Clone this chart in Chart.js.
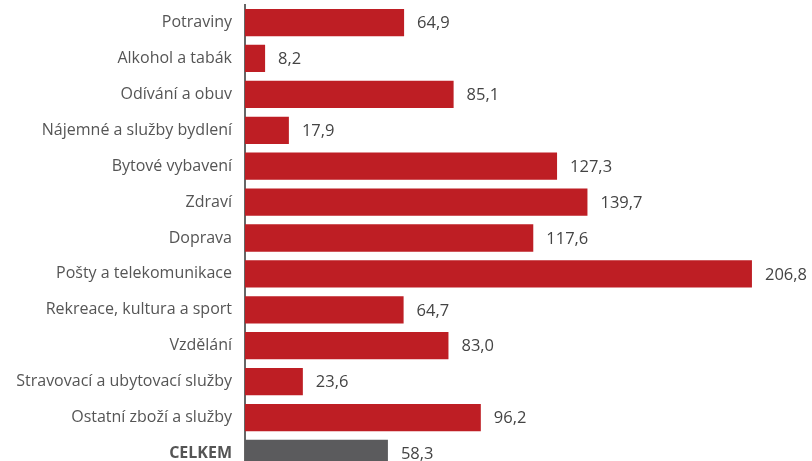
<!DOCTYPE html>
<html lang="cs">
<head>
<meta charset="UTF-8">
<title>Výdaje</title>
<script src="https://cdn.jsdelivr.net/npm/chart.js"></script>
<style>
  html, body { margin: 0; padding: 0; background: #fff; overflow: hidden; }
  #wrap { width: 812px; height: 461px; overflow: hidden; }
  #graf { display: block; margin-top: -10px; }
</style>
</head>
<body>
<div id="wrap"><canvas id="graf" width="812" height="496"></canvas></div>
<script>
// data
const kategorie = ["Potraviny", "Alkohol a tabák", "Odívání a obuv", "Nájemné a služby bydlení",
  "Bytové vybavení", "Zdraví", "Doprava", "Pošty a telekomunikace", "Rekreace, kultura a sport",
  "Vzdělání", "Stravovací a ubytovací služby", "Ostatní zboží a služby", "CELKEM"];
const hodnoty = [64.9, 8.2, 85.1, 17.9, 127.3, 139.7, 117.6, 206.8, 64.7, 83.0, 23.6, 96.2, 58.3];

const barvy = kategorie.map(k => k === "CELKEM" ? "#5b5b5d" : "#be1e24");

// popisky hodnot za sloupci
const popisky = {
  id: 'popisky',
  afterDatasetsDraw(chart) {
    const c = chart.ctx;
    const meta = chart.getDatasetMeta(0);
    c.save();
    c.font = '16.5px "Open Sans", sans-serif';
    c.fillStyle = '#444';
    c.textBaseline = 'middle';
    meta.data.forEach((bar, i) => {
      c.fillText(hodnoty[i].toFixed(1).replace('.', ','), bar.x + 13, bar.y + 1);
    });
    c.restore();
  }
};

new Chart(document.getElementById('graf'), {
  type: 'bar',
  data: {
    labels: kategorie,
    datasets: [{
      data: hodnoty,
      backgroundColor: barvy,
      barPercentage: 0.76,
      categoryPercentage: 1
    }]
  },
  options: {
    indexAxis: 'y',
    responsive: false,
    animation: false,
    layout: { padding: 0 },
    plugins: { legend: { display: false }, tooltip: { enabled: false } },
    scales: {
      x: { display: false, min: 0, max: 231.3 },
      y: {
        afterFit(s) { s.width = 245; },
        grid: { display: false },
        border: { display: true, color: '#666', width: 2 },
        ticks: {
          padding: 5,
          color: '#555',
          font: (ctx) => ({
            family: '"Open Sans", sans-serif',
            size: 16,
            weight: ctx.tick && ctx.tick.label === 'CELKEM' ? 'bold' : 'normal'
          })
        }
      }
    }
  },
  plugins: [popisky]
});
</script>
</body>
</html>
